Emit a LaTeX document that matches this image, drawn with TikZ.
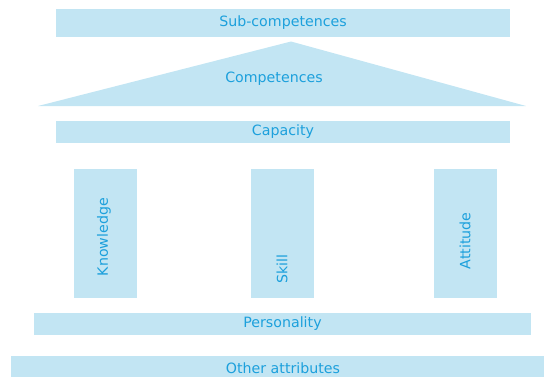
\documentclass[tikz,border=0pt]{standalone}
\usepackage{fontspec}
\setmainfont{DejaVu Sans}
\definecolor{boxblue}{RGB}{194,229,243}
\definecolor{textblue}{RGB}{28,160,220}

\begin{document}
\begin{tikzpicture}[x=1pt, y=-1pt,
    block/.style={fill=boxblue, text=textblue, inner sep=0pt, font=\fontsize{14.2}{16}\selectfont},
    pillar/.style={fill=boxblue, minimum width=63pt, minimum height=129pt, inner sep=0pt},
    vtext/.style={text=textblue, rotate=90, inner sep=0pt, font=\fontsize{14.2}{16}\selectfont}]
    \useasboundingbox (0,0) rectangle (544,376);
    % roof
    \node[block, minimum width=454pt, minimum height=28pt] (sub) at (283,23) {Sub-competences};
    \fill[boxblue] (38,106) -- (291,41.5) -- (526,106) -- cycle;
    \node[text=textblue, font=\fontsize{14.2}{16}\selectfont, inner sep=0pt] (comp) at (274,79) {Competences};
    \node[block, minimum width=454pt, minimum height=22pt] (cap) at (283,132) {Capacity};
    % pillars
    \node[pillar] (know) at (105.5,233.5) {};
    \node[pillar] (skill) at (282.5,233.5) {};
    \node[pillar] (att) at (465.5,233.5) {};
    \node[vtext] (knowlbl) at (104,237) {Knowledge};
    \node[vtext] (skilllbl) at (282,269) {Skill};
    \node[vtext] (attlbl) at (465,241) {Attitude};
    % base
    \node[block, minimum width=497pt, minimum height=22pt] (pers) at (282.5,324) {Personality};
    \node[block, minimum width=544pt, minimum height=24pt] (other) at (283,368) {Other attributes};
\end{tikzpicture}
\end{document}
